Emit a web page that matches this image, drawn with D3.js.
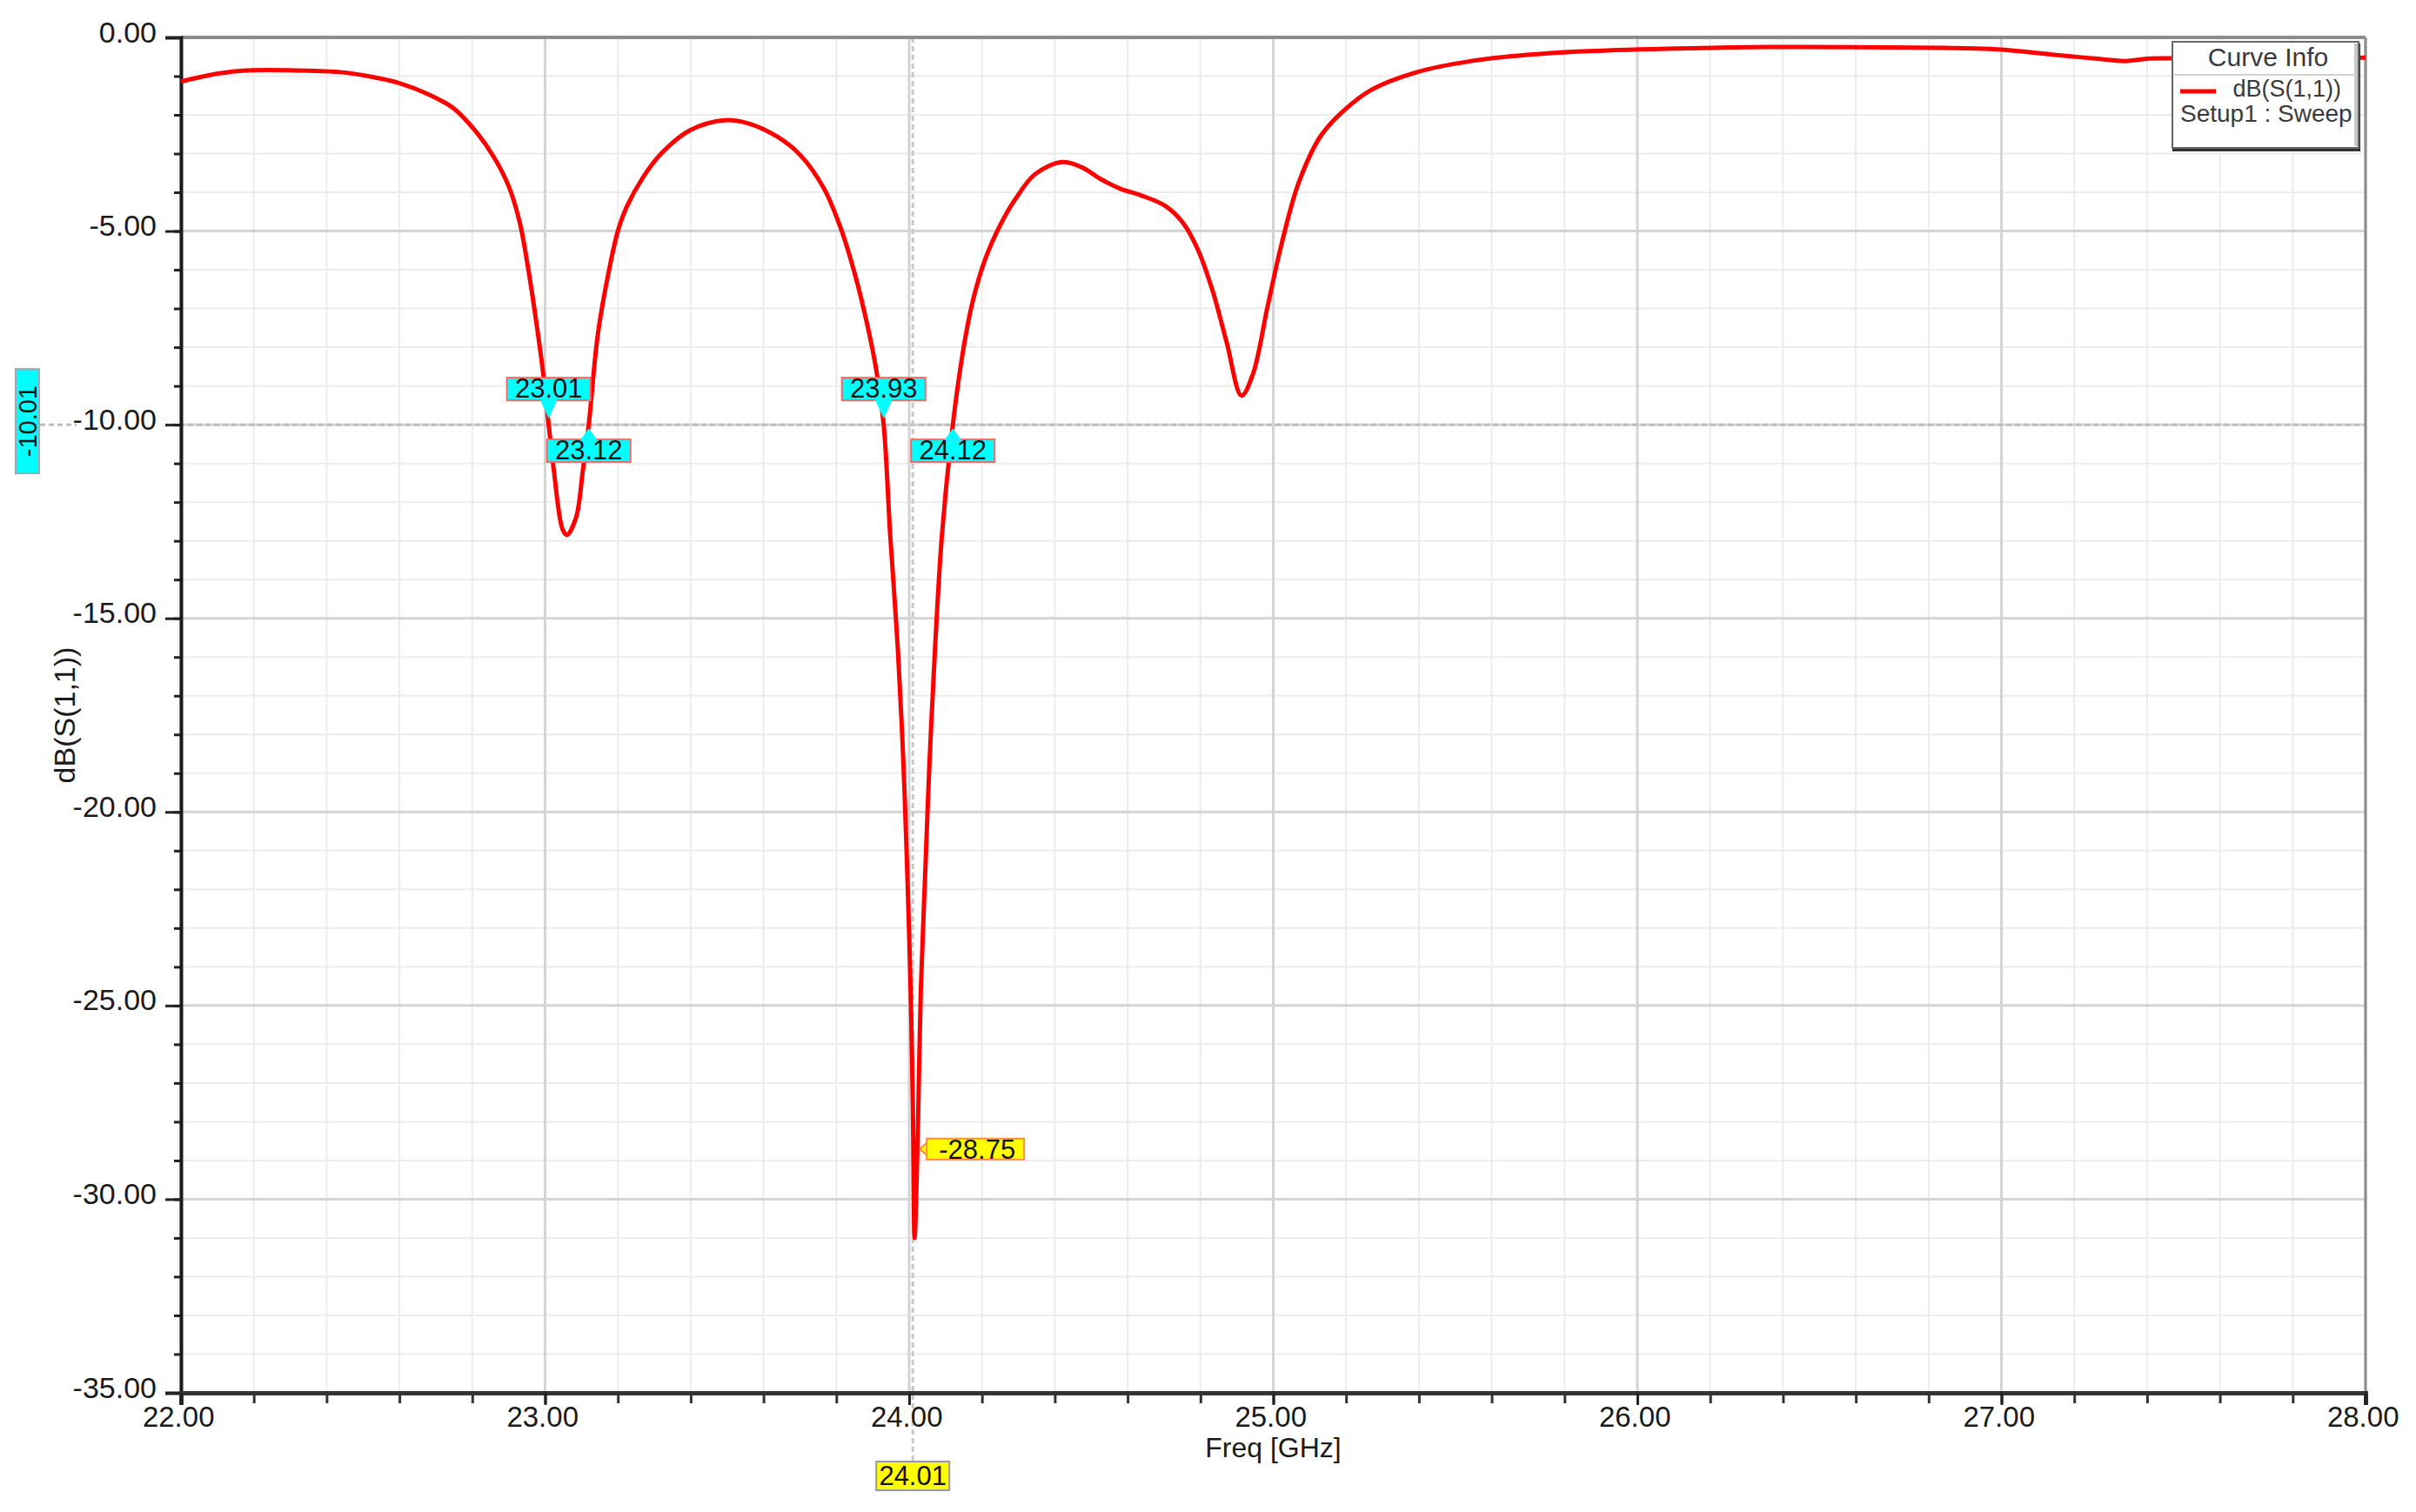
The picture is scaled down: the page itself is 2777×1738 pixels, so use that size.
<!DOCTYPE html>
<html>
<head>
<meta charset="utf-8">
<script src="https://cdn.jsdelivr.net/npm/d3@7/dist/d3.min.js"></script>
<style>
  body { margin: 0; background: #fff; }
  text { font-family: "Liberation Sans", Arial, sans-serif; }
</style>
</head>
<body>
<svg id="chart" width="2777" height="1738"></svg>
<script>
// sweep data (GHz, dB)
const freq = [22.00, 22.08, 22.17, 22.30, 22.43, 22.52, 22.60, 22.68, 22.75, 22.81,
  22.86, 22.90, 22.93, 22.953, 22.977, 22.996, 23.01, 23.024, 23.048, 23.06,
  23.085, 23.104, 23.12, 23.145, 23.176, 23.20, 23.223, 23.27, 23.319, 23.398,
  23.493, 23.558, 23.637, 23.70, 23.766, 23.813, 23.852, 23.885, 23.909, 23.93,
  23.948, 23.969, 23.984, 23.995, 24.004, 24.010, 24.015, 24.024, 24.032, 24.044,
  24.056, 24.071, 24.09, 24.12, 24.148, 24.175, 24.21, 24.25, 24.29, 24.346, 24.42,
  24.473, 24.53, 24.578, 24.64, 24.705, 24.753, 24.793, 24.832, 24.872, 24.913,
  24.944, 24.984, 25.023, 25.07, 25.13, 25.195, 25.27, 25.393, 25.544, 25.697,
  25.85, 26.08, 26.31, 26.61, 26.84, 26.99, 27.145, 27.25, 27.34, 27.40,
  27.47, 27.70, 28.00];
const s11 = [-1.14, -0.97, -0.86, -0.85, -0.89, -1.01, -1.18, -1.47, -1.84, -2.43,
  -3.10, -3.84, -4.76, -5.93, -7.42, -8.76, -10.0, -11.17, -12.7, -12.85,
  -12.4, -11.17, -10.0, -7.67, -6.0, -5.0, -4.4, -3.6, -3.0, -2.40,
  -2.14, -2.22, -2.56, -3.03, -3.9, -4.95, -6.15, -7.42, -8.55, -10.0,
  -12.86, -15.8, -18.7, -21.6, -24.6, -27.5, -31.0, -28.2, -24.6, -21.6,
  -18.7, -15.8, -12.86, -10.0, -8.1, -6.8, -5.7, -4.85, -4.2, -3.53, -3.22,
  -3.35, -3.68, -3.9, -4.09, -4.36, -4.8, -5.48, -6.5, -7.87, -9.25,
  -8.7, -6.97, -5.33, -3.75, -2.55, -1.88, -1.35, -0.90, -0.61, -0.45,
  -0.36, -0.29, -0.25, -0.25, -0.27, -0.31, -0.45, -0.54, -0.61, -0.55,
  -0.54, -0.53, -0.52];

const xTicks = [22, 23, 24, 25, 26, 27, 28];
const yTicks = [0, -5, -10, -15, -20, -25, -30, -35];

// markers
const markerFreq = [23.01, 23.12, 23.93, 24.12];
const markerLabels = ['23.01', '23.12', '23.93', '24.12'];
const refLevel = -10;
const refLabel = '-10.01';
const minFreq = 24.01;
const minFreqLabel = '24.01';
const minValue = -28.75;
const minValueLabel = '-28.75';

const legendTitle = 'Curve Info';
const legendLines = ['dB(S(1,1))', 'Setup1 : Sweep'];

const pl = 208, pr = 2719, pt = 43, pb = 1601;

const svg = d3.select('#chart');
const x = d3.scaleLinear().domain([22, 28]).range([pl, pr]);
const y = d3.scaleLinear().domain([-35, 0]).range([pb, pt]);

// grid
const grid = svg.append('g');
grid.selectAll('.vmin').data(x.ticks(30)).enter().append('line')
  .attr('x1', d => x(d)).attr('x2', d => x(d)).attr('y1', pt).attr('y2', pb)
  .attr('stroke', '#ececec').attr('stroke-width', 2);
grid.selectAll('.hmin').data(y.ticks(35)).enter().append('line')
  .attr('y1', d => y(d)).attr('y2', d => y(d)).attr('x1', pl).attr('x2', pr)
  .attr('stroke', '#ececec').attr('stroke-width', 2);
grid.selectAll('.vmaj').data(xTicks).enter().append('line')
  .attr('x1', d => x(d)).attr('x2', d => x(d)).attr('y1', pt).attr('y2', pb)
  .attr('stroke', '#d4d4d4').attr('stroke-width', 3);
grid.selectAll('.hmaj').data(yTicks).enter().append('line')
  .attr('y1', d => y(d)).attr('y2', d => y(d)).attr('x1', pl).attr('x2', pr)
  .attr('stroke', '#d4d4d4').attr('stroke-width', 3);

// reference lines (dashed)
svg.append('line')
  .attr('x1', 46).attr('x2', pr).attr('y1', y(refLevel)).attr('y2', y(refLevel))
  .attr('stroke', '#bdbdbd').attr('stroke-width', 3).attr('stroke-dasharray', '6,4');
svg.append('line')
  .attr('x1', x(minFreq)).attr('x2', x(minFreq)).attr('y1', pt).attr('y2', pb + 80)
  .attr('stroke', '#c8c8c8').attr('stroke-width', 3).attr('stroke-dasharray', '6,4');

// frame
svg.append('line').attr('x1', pl).attr('x2', pr).attr('y1', pt).attr('y2', pt)
  .attr('stroke', '#8c8c8c').attr('stroke-width', 4);
svg.append('line').attr('x1', pr).attr('x2', pr).attr('y1', pt).attr('y2', pb)
  .attr('stroke', '#8c8c8c').attr('stroke-width', 3);

// minor ticks
svg.append('g').attr('transform', `translate(${pl},0)`)
  .call(d3.axisLeft(y).ticks(35).tickSize(8).tickFormat(''))
  .call(g => g.select('.domain').remove())
  .call(g => g.selectAll('line').attr('stroke', '#222').attr('stroke-width', 3));
svg.append('g').attr('transform', `translate(0,${pb})`)
  .call(d3.axisBottom(x).ticks(30).tickSize(12).tickFormat(''))
  .call(g => g.select('.domain').remove())
  .call(g => g.selectAll('line').attr('stroke', '#333').attr('stroke-width', 3));

// major axes
const fmt = d => d.toFixed(2);
const gy = svg.append('g').attr('transform', `translate(${pl},0)`)
  .call(d3.axisLeft(y).tickValues(yTicks).tickSize(18).tickPadding(10).tickFormat(fmt));
gy.select('.domain').attr('stroke', '#1a1a1a').attr('stroke-width', 4);
gy.selectAll('line').attr('stroke', '#222').attr('stroke-width', 3);
gy.selectAll('text').attr('font-size', 34).attr('fill', '#1a1a1a').attr('dy', '0.15em');

const gx = svg.append('g').attr('transform', `translate(0,${pb})`)
  .call(d3.axisBottom(x).tickValues(xTicks).tickSize(14).tickPadding(2).tickFormat(fmt));
gx.select('.domain').attr('stroke', '#333').attr('stroke-width', 5);
gx.selectAll('line').attr('stroke', '#222').attr('stroke-width', 3);
gx.selectAll('text').attr('font-size', 33).attr('fill', '#1a1a1a').attr('dx', '-0.1em');

// white patch behind the -10.00 label so the dashes stop there
gy.selectAll('.tick').filter(d => d === refLevel).insert('rect', 'text')
  .attr('x', -120).attr('y', -16).attr('width', 102).attr('height', 30).attr('fill', '#fff');

// axis titles
svg.append('text')
  .attr('transform', `translate(74,${(pt + pb) / 2}) rotate(-90)`)
  .attr('text-anchor', 'middle').attr('dominant-baseline', 'central')
  .attr('font-size', 34).attr('fill', '#1a1a1a').text('dB(S(1,1))');
svg.append('text')
  .attr('x', x(25)).attr('y', pb + 74)
  .attr('text-anchor', 'middle')
  .attr('font-size', 32).attr('fill', '#1a1a1a').text('Freq [GHz]');

// curve
const pts = freq.map((f, i) => [f, s11[i]]);
const line = d3.line().x(d => x(d[0])).y(d => y(d[1])).curve(d3.curveCatmullRom.alpha(0.5));
svg.append('path').datum(pts)
  .attr('d', line).attr('fill', 'none')
  .attr('stroke', '#ff0000').attr('stroke-width', 5).attr('stroke-linejoin', 'round');

// -10 dB crossing markers
const mk = svg.append('g').selectAll('g').data(markerFreq).enter().append('g')
  .attr('transform', d => `translate(${x(d)},${y(refLevel)})`);
mk.append('rect')
  .attr('x', -48).attr('width', 96).attr('height', 26)
  .attr('y', (d, i) => i % 2 === 0 ? -54 : 17)
  .attr('fill', '#00ffff').attr('stroke', '#ff6464').attr('stroke-width', 2);
mk.append('path')
  .attr('d', (d, i) => i % 2 === 0 ? 'M-10,-29L10,-29L0,-7Z' : 'M-10,18L10,18L0,4Z')
  .attr('fill', '#00ffff');
mk.append('text')
  .attr('text-anchor', 'middle')
  .attr('y', (d, i) => i % 2 === 0 ? -31 : 40)
  .attr('font-size', 31).attr('fill', '#111')
  .text((d, i) => markerLabels[i]);

// -10.01 tag on the left
const cy = y(refLevel) - 4;
svg.append('rect').attr('x', 18).attr('y', cy - 60).attr('width', 27).attr('height', 120)
  .attr('fill', '#00ffff').attr('stroke', '#9ab').attr('stroke-width', 2);
svg.append('text')
  .attr('transform', `translate(32,${cy}) rotate(-90)`)
  .attr('text-anchor', 'middle').attr('dominant-baseline', 'central')
  .attr('font-size', 29).attr('fill', '#111').text(refLabel);

// 24.01 tag under the x axis
const fx = x(minFreq);
svg.append('rect').attr('x', fx - 42).attr('y', pb + 79).attr('width', 84).attr('height', 33)
  .attr('fill', '#ffff00').attr('stroke', '#999').attr('stroke-width', 2);
svg.append('text').attr('x', fx).attr('y', pb + 106)
  .attr('text-anchor', 'middle').attr('font-size', 31).attr('fill', '#111').text(minFreqLabel);

// -28.75 value tag
const vy = y(minValue) - 2;
svg.append('path')
  .attr('d', `M${fx + 8},${vy}L${fx + 18},${vy - 9}L${fx + 18},${vy + 9}Z`)
  .attr('fill', '#ffff00').attr('stroke', '#ff8c40').attr('stroke-width', 2);
svg.append('rect').attr('x', fx + 16).attr('y', vy - 12).attr('width', 112).attr('height', 24)
  .attr('fill', '#ffff00').attr('stroke', '#ff8c40').attr('stroke-width', 2);
svg.append('text').attr('x', fx + 74).attr('y', vy + 11)
  .attr('text-anchor', 'middle').attr('font-size', 31).attr('fill', '#111').text(minValueLabel);

// legend
const lg = svg.append('g').attr('transform', 'translate(2497,48)');
lg.append('rect').attr('x', 0).attr('y', 2).attr('width', 216).attr('height', 124).attr('fill', '#333');
lg.append('rect').attr('width', 214).attr('height', 122)
  .attr('fill', '#fff').attr('stroke', '#666').attr('stroke-width', 2);
lg.append('rect').attr('x', 209).attr('y', 2).attr('width', 4).attr('height', 118).attr('fill', '#c8c8c8');
lg.append('line').attr('x1', 2).attr('x2', 210).attr('y1', 38).attr('y2', 38)
  .attr('stroke', '#d0d0d0').attr('stroke-width', 2);
lg.append('text').attr('x', 110).attr('y', 28).attr('text-anchor', 'middle')
  .attr('font-size', 30).attr('fill', '#3a3a3a').text(legendTitle);
lg.append('line').attr('x1', 9).attr('x2', 50).attr('y1', 57).attr('y2', 57)
  .attr('stroke', '#ff0000').attr('stroke-width', 5);
lg.append('text').attr('x', 194).attr('y', 63).attr('text-anchor', 'end')
  .attr('font-size', 27).attr('fill', '#3a3a3a').text(legendLines[0]);
lg.append('text').attr('x', 9).attr('y', 92)
  .attr('font-size', 28).attr('fill', '#3a3a3a').text(legendLines[1]);
</script>
</body>
</html>
